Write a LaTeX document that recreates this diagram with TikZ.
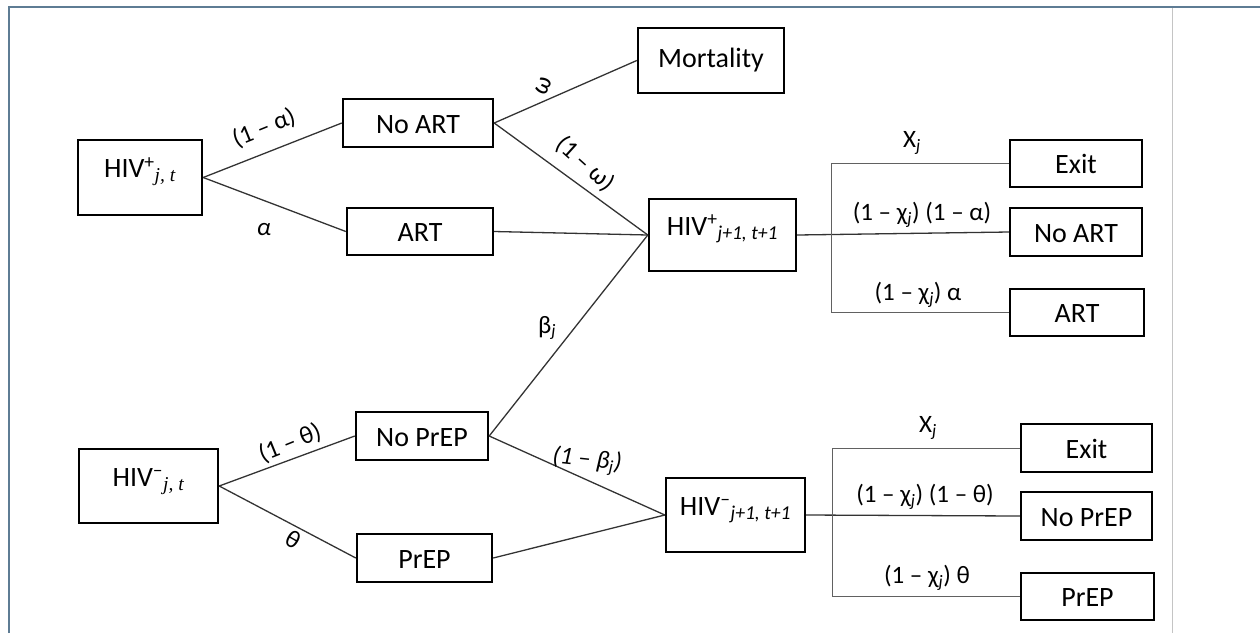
\documentclass[tikz,border=0pt]{standalone}
\usepackage{fontspec}
\setmainfont{Carlito}
\newfontfamily\timesfont{Liberation Serif}
\definecolor{framecol}{HTML}{5E7C94}
\definecolor{greyline}{HTML}{C4C4C4}
\begin{document}
\begin{tikzpicture}[x=1pt,y=-1pt,
  box/.style={draw, line width=2.4pt, inner sep=0pt, font=\fontsize{28}{34}\selectfont, text height=20pt, text depth=0pt},
  hivbox/.style={box, text height=20pt, text depth=20pt},
  conn/.style={draw=black!80, line width=1.3pt},
  branch/.style={draw=black!62, line width=1pt},
  lbl/.style={font=\fontsize{25}{30}\selectfont, inner sep=0pt},
]
\useasboundingbox (0,0) rectangle (1260,633);
% frame
\draw[framecol, line width=2pt] (8.5,633) -- (8.5,7) -- (1260,7);
\draw[greyline, line width=1pt] (1172,8) -- (1172,633);

% upper tree
\node[hivbox, minimum width=124pt, minimum height=75pt] (hivp) at (140,177.5) {HIV\textsuperscript{+}\textsubscript{\timesfont\itshape j, t}};
\node[box, minimum width=150pt, minimum height=48pt] (noart) at (418,123) {No ART};
\node[box, minimum width=146pt, minimum height=47pt] (art) at (420,231.5) {ART};
\node[box, minimum width=146pt, minimum height=65pt, text height=19pt, text depth=6pt] (mort) at (711,60.5) {Mortality};
\node[hivbox, minimum width=147pt, minimum height=72pt] (hivp2) at (722.5,235) {HIV\textsuperscript{+}\textsubscript{\itshape j+1, t+1}};
\node[box, minimum width=132pt, minimum height=47pt] (exit1) at (1076,163.5) {Exit};
\node[box, minimum width=132pt, minimum height=48pt] (noart2) at (1076,232) {No ART};
\node[box, minimum width=134pt, minimum height=47pt] (art2) at (1077,312.5) {ART};

% lower tree
\node[hivbox, minimum width=139pt, minimum height=74pt] (hivm) at (148.5,486) {HIV\textsuperscript{–}\textsubscript{\timesfont\itshape j, t}};
\node[box, minimum width=132pt, minimum height=48pt] (noprep) at (422,436) {No PrEP};
\node[box, minimum width=135pt, minimum height=48pt] (prep) at (424.5,558) {PrEP};
\node[hivbox, minimum width=139pt, minimum height=74pt] (hivm2) at (735.5,515) {HIV\textsuperscript{–}\textsubscript{\itshape j+1, t+1}};
\node[box, minimum width=131pt, minimum height=48pt] (exit2) at (1086.5,448) {Exit};
\node[box, minimum width=131pt, minimum height=48pt] (noprep2) at (1086.5,516) {No PrEP};
\node[box, minimum width=133pt, minimum height=47pt] (prep2) at (1087.5,596.5) {PrEP};

% connectors upper
\draw[conn] (hivp.east) -- (noart.west);
\draw[conn] (hivp.east) -- (art.west);
\draw[conn] (noart.east) -- (mort.west);
\draw[conn] (noart.east) -- (hivp2.west);
\draw[conn] (art.east) -- (hivp2.west);
\draw[conn] (noprep.east) -- (hivp2.west);
% connectors lower
\draw[conn] (hivm.east) -- (noprep.west);
\draw[conn] (hivm.east) -- (prep.west);
\draw[conn] (noprep.east) -- (hivm2.west);
\draw[conn] (prep.east) -- (hivm2.west);

% right branches
\coordinate (sp1) at (831,232);
\coordinate (sp2) at (832,516);
\draw[conn] (hivp2.east) -- (noart2.west);
\draw[branch] (exit1.west) -| (sp1) |- (art2.west);
\draw[conn] (hivm2.east) -- (noprep2.west);
\draw[branch] (exit2.west) -| (sp2) |- (prep2.west);

% labels
\node[lbl, rotate=22] (la1) at (264,128) {(1 – α)};
\node[lbl] (la2) at (264,230) {\itshape α};
\node[lbl, rotate=65] (lw1) at (544,86) {ω};
\node[lbl, rotate=-42] (lw2) at (585,164) {(1 – ω)};
\node[lbl] (lb1) at (547,328) {β\textsubscript{\itshape j}};
\node[lbl, rotate=-6] (lb2) at (587,461) {\itshape (1 – β\textsubscript{j})};
\node[lbl, rotate=22] (lt1) at (290,443) {(1 – θ)};
\node[lbl, rotate=-30] (lt2) at (293,539) {θ};

\node[lbl] (lx1) at (912,143) {X\textsubscript{\itshape j}};
\node[lbl] (lx2) at (922,215) {(1 – χ\textsubscript{\itshape j}) (1 – α)};
\node[lbl] (lx3) at (918,295) {(1 – χ\textsubscript{\itshape j}) α};
\node[lbl] (lx4) at (928,428) {X\textsubscript{\itshape j}};
\node[lbl] (lx5) at (925,497) {(1 – χ\textsubscript{\itshape j}) (1 – θ)};
\node[lbl] (lx6) at (927,578) {(1 – χ\textsubscript{\itshape j}) θ};
\end{tikzpicture}
\end{document}
